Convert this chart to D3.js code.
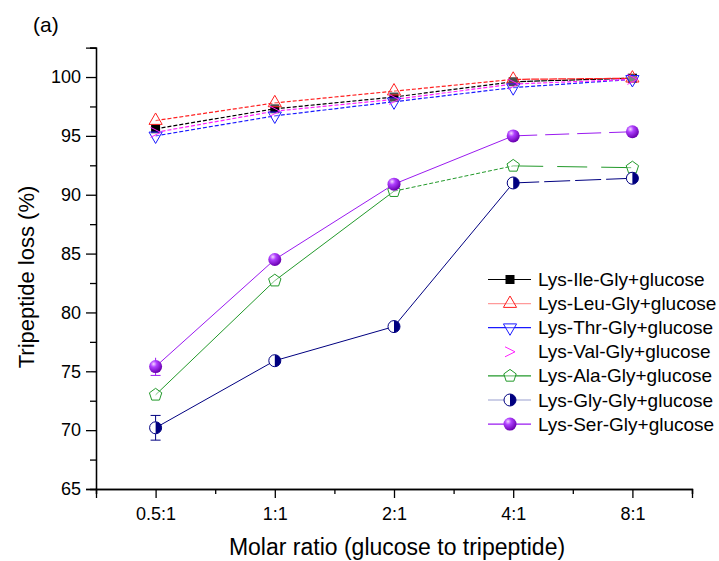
<!DOCTYPE html>
<html><head><meta charset="utf-8">
<script src="https://cdn.jsdelivr.net/npm/d3@7"></script>
<style>body{margin:0;background:#fff;}svg{display:block;font-family:Arial,"Liberation Sans",sans-serif;}</style>
</head><body>
<svg id="c" width="719" height="561"></svg>
<script>
const categories = ["0.5:1","1:1","2:1","4:1","8:1"];
const seriesNames = ["Lys-Ile-Gly+glucose","Lys-Leu-Gly+glucose","Lys-Thr-Gly+glucose","Lys-Val-Gly+glucose","Lys-Ala-Gly+glucose","Lys-Gly-Gly+glucose","Lys-Ser-Gly+glucose"];
const ileValues = [95.6, 97.3, 98.3, 99.6, 99.9];
const leuValues = [96.3, 97.8, 98.8, 99.8, 99.9];
const thrValues = [95.0, 96.7, 97.9, 99.1, 99.8];
const valValues = [95.3, 97.1, 98.1, 99.4, 99.8];
const alaValues = [73.0, 82.7, 90.3, 92.45, 92.3];
const glyValues = [70.2, 75.9, 78.8, 91.0, 91.4];
const serValues = [75.4, 84.5, 90.9, 95.0, 95.35];
const glyErrors = [1.05, 0, 0, 0, 0];
const serErrors = [0.75, 0, 0, 0, 0];
const yTicks = [65, 70, 75, 80, 85, 90, 95, 100];

const series = [
  {name: seriesNames[0], values: ileValues, color: "#000000", legendLine: "#000000", marker: "square"},
  {name: seriesNames[1], values: leuValues, color: "#ff2020", legendLine: "#ff9a9a", marker: "triUp"},
  {name: seriesNames[2], values: thrValues, color: "#1a1aff", legendLine: "#1a1aff", marker: "triDown"},
  {name: seriesNames[3], values: valValues, color: "#ff20ff", legendLine: null, marker: "arrow"},
  {name: seriesNames[4], values: alaValues, color: "#22992a", legendLine: "#22992a", marker: "pentagon"},
  {name: seriesNames[5], values: glyValues, color: "#000080", legendLine: "#9aa0d0", marker: "half", errors: glyErrors},
  {name: seriesNames[6], values: serValues, color: "#9a1af0", legendLine: "#9a1af0", marker: "sphere", errors: serErrors}
];
// per-segment dash styles
const segDash = [
  ["4,2","4,2","4,2","6,1"],
  ["4,2","4,2","4,2","8,1"],
  ["4,2","4,2","4,2","4,2"],
  ["4,2","4,2","4,2","4,2"],
  [null,null,"4,2","30,14"],
  [null,null,null,"26,5"],
  [null,null,null,"24,8"]
];
const segWidth = [1.2,1.2,1.2,1.2,1,1,1];

const svg = d3.select("#c");
const L = 96, T = 47.6, R = 692, B = 489;
const x = d3.scaleLinear().domain([0.5, 5.5]).range([L, R]);
const y = d3.scaleLinear().domain([65, 102.5]).range([B, T]);

const defs = svg.append("defs");
const rg = defs.append("radialGradient").attr("id","sph").attr("cx","35%").attr("cy","30%").attr("r","70%");
rg.append("stop").attr("offset","0%").attr("stop-color","#f4d8ff");
rg.append("stop").attr("offset","35%").attr("stop-color","#b040ff");
rg.append("stop").attr("offset","100%").attr("stop-color","#6a00b0");

// axes
const xMajor = d3.axisBottom(x).tickValues(d3.range(1,6)).tickFormat((d,i)=>categories[i]).tickSizeOuter(0).tickSize(9).tickPadding(9);
const xMinor = d3.axisBottom(x).tickValues([0.5,1.5,2.5,3.5,4.5,5.5]).tickFormat("").tickSizeOuter(0).tickSize(5);
const yMajor = d3.axisLeft(y).tickValues(yTicks).tickSizeOuter(0).tickSize(10).tickPadding(5);
const yMinor = d3.axisLeft(y).tickValues([67.5,72.5,77.5,82.5,87.5,92.5,97.5,102.5]).tickFormat("").tickSizeOuter(0).tickSize(6);

function styleAxis(g){
  g.selectAll("path,line").attr("stroke","#000").attr("stroke-width",1.3);
  g.selectAll("text").attr("fill","#000").style("font-size","18px").style("font-family","Arial, 'Liberation Sans', sans-serif");
}
svg.append("g").attr("transform",`translate(0,${B})`).call(xMinor).call(styleAxis);
svg.append("g").attr("transform",`translate(0,${B})`).call(xMajor).call(styleAxis);
svg.append("g").attr("transform",`translate(${L},0)`).call(yMinor).call(styleAxis);
svg.append("g").attr("transform",`translate(${L},0)`).call(yMajor).call(styleAxis);

svg.append("text").attr("x",397).attr("y",555).attr("text-anchor","middle").style("font-size","23px").text("Molar ratio (glucose to tripeptide)");
svg.append("text").attr("transform",`translate(34,277) rotate(-90)`).attr("text-anchor","middle").style("font-size","22px").text("Tripeptide loss (%)");
svg.append("text").attr("x",33).attr("y",32).style("font-size","21px").text("(a)");

function drawMarker(g, type, color, s){
  s = s || 1;
  if(type==="square"){
    g.append("rect").attr("x",-4.5*s).attr("y",-4.5*s).attr("width",9*s).attr("height",9*s).attr("fill",color);
  } else if(type==="triUp"){
    g.append("path").attr("d",d3.symbol(d3.symbolTriangle, 75*s*s)()).attr("fill","#fff").attr("fill-opacity",0.3).attr("stroke",color).attr("stroke-width",1);
  } else if(type==="triDown"){
    g.append("path").attr("d",d3.symbol(d3.symbolTriangle, 75*s*s)()).attr("transform","rotate(180)").attr("fill","#fff").attr("fill-opacity",0.3).attr("stroke",color).attr("stroke-width",1);
  } else if(type==="arrow"){
    g.append("path").attr("d",`M${-5*s},${-5*s}L${5*s},0L${-5*s},${5*s}`).attr("fill","none").attr("stroke",color).attr("stroke-width",1);
  } else if(type==="pentagon"){
    const r=6.5*s; const pts=d3.range(5).map(i=>{const a=-Math.PI/2+i*2*Math.PI/5;return [r*Math.cos(a),r*Math.sin(a)];});
    g.append("path").attr("d","M"+pts.join("L")+"Z").attr("fill","#fff").attr("fill-opacity",0.4).attr("stroke",color).attr("stroke-width",1);
  } else if(type==="half"){
    const r=6*s;
    g.append("circle").attr("r",r).attr("fill","#fff").attr("stroke",color).attr("stroke-width",1);
    g.append("path").attr("d",`M0,${-r}A${r},${r} 0 0 1 0,${r}Z`).attr("fill",color);
  } else if(type==="sphere"){
    g.append("circle").attr("r",6.5*s).attr("fill","url(#sph)");
  }
}

// lines
series.forEach((s,si)=>{
  const g = svg.append("g");
  for(let i=0;i<s.values.length-1;i++){
    g.append("line").attr("x1",x(i+1)).attr("y1",y(s.values[i])).attr("x2",x(i+2)).attr("y2",y(s.values[i+1]))
      .attr("stroke",s.color).attr("stroke-width",segWidth[si]).attr("stroke-dasharray",segDash[si][i]);
  }
});
// error bars
series.forEach(s=>{
  if(!s.errors) return;
  s.errors.forEach((e,i)=>{
    if(!e) return;
    const cx=x(i+1);
    const g=svg.append("g").attr("stroke",s.color).attr("stroke-width",1);
    g.append("line").attr("x1",cx).attr("x2",cx).attr("y1",y(s.values[i]-e)).attr("y2",y(s.values[i]+e));
    g.append("line").attr("x1",cx-5).attr("x2",cx+5).attr("y1",y(s.values[i]-e)).attr("y2",y(s.values[i]-e));
    if(s.marker!=="sphere") g.append("line").attr("x1",cx-5).attr("x2",cx+5).attr("y1",y(s.values[i]+e)).attr("y2",y(s.values[i]+e));
  });
});
// markers
series.forEach(s=>{
  s.values.forEach((v,i)=>{
    const g=svg.append("g").attr("transform",`translate(${x(i+1)},${y(v)})`);
    drawMarker(g,s.marker,s.color);
  });
});

// legend
const lg = svg.append("g");
series.forEach((s,i)=>{
  const yy = 279.5 + i*24.1;
  if(s.legendLine) lg.append("line").attr("x1",488).attr("x2",531).attr("y1",yy).attr("y2",yy).attr("stroke",s.legendLine).attr("stroke-width",1.2);
  const g=lg.append("g").attr("transform",`translate(510,${yy})`);
  drawMarker(g,s.marker,s.color);
  lg.append("text").attr("x",538).attr("y",yy+6.5).style("font-size","19px").text(s.name);
});
</script>
</body></html>
